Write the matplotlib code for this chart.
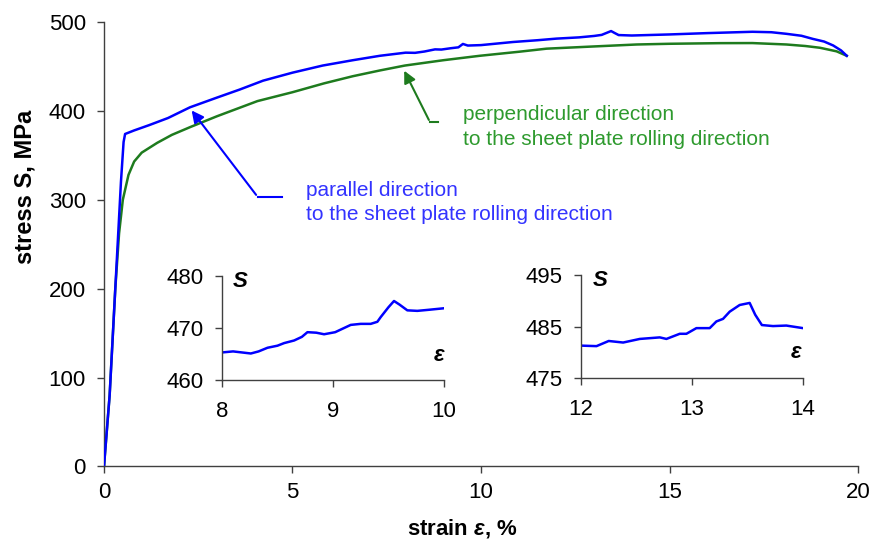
import matplotlib
matplotlib.use("Agg")
import matplotlib.pyplot as plt

# parallel direction (blue)
strain_par = [0, 0.15, 0.3, 0.45, 0.52, 0.56, 0.8, 1.2, 1.7, 2.28, 3.0, 3.6, 4.22, 5.0,
              5.8, 6.6, 7.32, 8.0, 8.25, 8.5, 8.78, 8.95, 9.2, 9.4, 9.52, 9.65, 10.0,
              10.85, 11.5, 12.0, 12.6, 13.0, 13.2, 13.45, 13.55, 13.65, 14.0, 15.0,
              16.0, 17.2, 17.7, 18.1, 18.5, 18.8, 19.1, 19.34, 19.55, 19.7]
stress_par = [0, 80, 200, 320, 365, 374, 378, 384, 392, 404, 415, 424, 434, 443,
              451, 457, 462, 465.5, 465.3, 466.8, 469.2, 469.0, 470.5, 471.5, 475.3, 473.5, 474,
              477.5, 479.5, 481.3, 482.7, 484.3, 485.5, 489.8, 487.5, 485.3, 484.8, 486,
              487.5, 489, 488.5, 486.7, 484.5, 481, 478, 473.6, 468, 462]

# perpendicular direction (green)
strain_perp = [0, 0.15, 0.3, 0.4, 0.5, 0.65, 0.8, 1.0, 1.41, 1.8, 2.3, 3.0, 4.07, 5.0,
               5.84, 6.6, 7.32, 7.98, 9.0, 9.97, 11.0, 11.74, 13.0, 14.13, 15.0, 16.34,
               17.2, 18.1, 18.6, 18.99, 19.43, 19.7]
stress_perp = [0, 80, 200, 262, 300, 328, 343, 353, 364, 373, 382, 394, 411, 421,
               431, 439, 445.5, 451, 457, 462, 466.5, 470, 472.5, 474.7, 475.5, 476.2,
               476.3, 474.7, 473, 471, 467, 462]

# inset details of the parallel curve
ins1_strain = [8.0, 8.1, 8.22, 8.26, 8.33, 8.41, 8.5, 8.56, 8.65, 8.72, 8.77, 8.85, 8.92,
               9.02, 9.1, 9.16, 9.25, 9.34, 9.4, 9.43, 9.5, 9.55, 9.6, 9.67, 9.76, 9.86, 10.0]
ins1_stress = [465.3, 465.5, 465.2, 465.1, 465.5, 466.2, 466.6, 467.1, 467.6, 468.3, 469.2,
               469.1, 468.8, 469.2, 470.0, 470.6, 470.8, 470.8, 471.2, 472.1, 474.0, 475.2,
               474.5, 473.4, 473.3, 473.5, 473.8]

ins2_strain = [12.0, 12.14, 12.25, 12.38, 12.53, 12.71, 12.77, 12.89, 12.95, 13.04, 13.16,
               13.22, 13.28, 13.34, 13.43, 13.52, 13.57, 13.63, 13.73, 13.85, 14.0]
ins2_stress = [481.3, 481.2, 482.2, 481.9, 482.6, 482.9, 482.6, 483.6, 483.6, 484.7, 484.7,
               486.0, 486.5, 487.9, 489.2, 489.6, 487.3, 485.3, 485.1, 485.2, 484.7]

BLUE = "#0000ff"
GREEN = "#1e7b1e"
SPINE = "#404040"

plt.rcParams["font.family"] = ["Liberation Sans", "DejaVu Sans"]
plt.rcParams["mathtext.fontset"] = "custom"
plt.rcParams["mathtext.rm"] = "Liberation Sans:bold"
plt.rcParams["mathtext.it"] = "Liberation Sans:italic:bold"
plt.rcParams["mathtext.bf"] = "Liberation Sans:bold"


def style_axes(ax, fs, xpad=5):
    for side in ["top", "right"]:
        ax.spines[side].set_visible(False)
    for side in ["left", "bottom"]:
        ax.spines[side].set_color(SPINE)
        ax.spines[side].set_linewidth(1.0)
    ax.tick_params(direction="out", length=5, width=1, color=SPINE, labelsize=fs)
    ax.tick_params(axis="y", pad=8)
    ax.tick_params(axis="x", pad=xpad)


fig = plt.figure(figsize=(8.76, 5.5), dpi=100)
ax = fig.add_axes([0.1187, 0.152, 0.8608, 0.808])
style_axes(ax, 16, xpad=6)

ax.plot(strain_perp, stress_perp, color=GREEN, lw=1.8, zorder=3)
ax.plot(strain_par, stress_par, color=BLUE, lw=1.8, zorder=4)

ax.set_xlim(0, 20)
ax.set_ylim(0, 500)
ax.set_xticks([0, 5, 10, 15, 20])
ax.set_yticks([0, 100, 200, 300, 400, 500])

ax.set_xlabel(r"strain $\mathit{ε}$, %", fontsize=16, fontweight="bold")
ax.xaxis.set_label_coords(0.475, -0.113)
ax.set_ylabel("stress S, MPa", fontsize=17, fontweight="bold")
ax.yaxis.set_label_coords(-0.09, 0.63)

# annotation for the parallel curve
ax.annotate("", xy=(2.28, 403), xytext=(4.08, 303),
            arrowprops=dict(arrowstyle="-|>", color=BLUE, lw=1.5, mutation_scale=18))
ax.plot([4.08, 4.72], [303, 303], color=BLUE, lw=1.5)
ax.text(5.36, 297, "parallel direction\nto the sheet plate rolling direction",
        color="#3333ff", fontsize=15, va="center", ha="left", linespacing=1.35)

# annotation for the perpendicular curve
ax.annotate("", xy=(7.93, 448), xytext=(8.65, 387),
            arrowprops=dict(arrowstyle="-|>", color=GREEN, lw=1.5, mutation_scale=18))
ax.plot([8.65, 8.86], [387, 387], color=GREEN, lw=1.5)
ax.text(9.52, 382, "perpendicular direction\nto the sheet plate rolling direction",
        color="#2e9a2e", fontsize=15, va="center", ha="left", linespacing=1.35)

# inset 1
ax1 = fig.add_axes([0.2534, 0.3091, 0.2534, 0.189])
style_axes(ax1, 16, xpad=10)
ax1.plot(ins1_strain, ins1_stress, color=BLUE, lw=1.8)
ax1.set_xlim(8, 10)
ax1.set_ylim(460, 480)
ax1.set_xticks([8, 9, 10])
ax1.set_yticks([460, 470, 480])
ax1.patch.set_alpha(0)
ax1.text(0.08, 0.95, "S", transform=ax1.transAxes, fontsize=16, fontweight="bold",
         fontstyle="italic", ha="center", va="center")
ax1.text(0.98, 0.24, "ε", transform=ax1.transAxes, fontsize=16, fontweight="bold",
         fontstyle="italic", ha="center", va="center")

# inset 2
ax2 = fig.add_axes([0.6632, 0.3127, 0.2534, 0.187])
style_axes(ax2, 16, xpad=10)
ax2.plot(ins2_strain, ins2_stress, color=BLUE, lw=1.8)
ax2.set_xlim(12, 14)
ax2.set_ylim(475, 495)
ax2.set_xticks([12, 13, 14])
ax2.set_yticks([475, 485, 495])
ax2.patch.set_alpha(0)
ax2.text(0.085, 0.95, "S", transform=ax2.transAxes, fontsize=16, fontweight="bold",
         fontstyle="italic", ha="center", va="center")
ax2.text(0.97, 0.25, "ε", transform=ax2.transAxes, fontsize=16, fontweight="bold",
         fontstyle="italic", ha="center", va="center")

fig.savefig("out.png", dpi=100)
